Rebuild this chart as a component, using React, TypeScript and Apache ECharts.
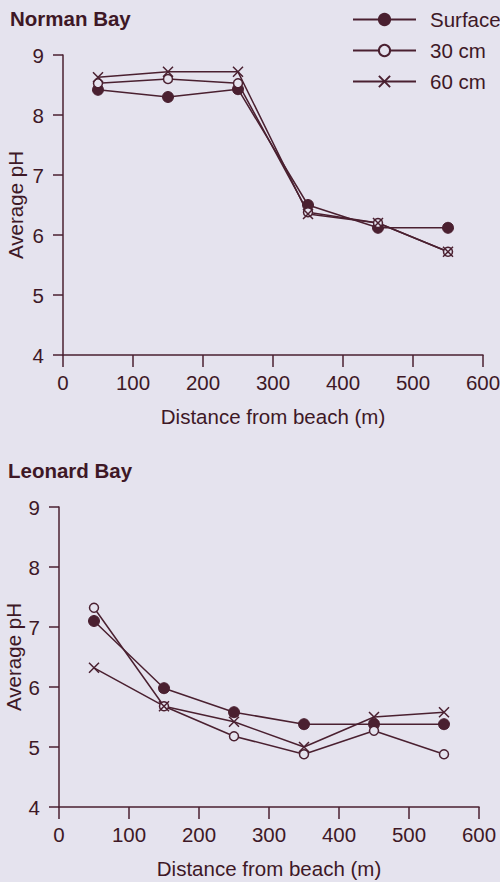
import React, { useEffect, useRef } from "react";
import * as echarts from "echarts";

const distances = [50, 150, 250, 350, 450, 550];
const seriesNames = ["Surface", "30 cm", "60 cm"];
const normanSurface = [8.42, 8.3, 8.43, 6.5, 6.12, 6.12];
const norman30 = [8.53, 8.6, 8.53, 6.38, 6.2, 5.72];
const norman60 = [8.63, 8.72, 8.72, 6.35, 6.2, 5.72];
const leonardSurface = [7.1, 5.98, 5.58, 5.38, 5.38, 5.38];
const leonard30 = [7.32, 5.68, 5.18, 4.88, 5.27, 4.88];
const leonard60 = [6.32, 5.68, 5.42, 5.0, 5.5, 5.58];
const panelTitles = ["Norman Bay", "Leonard Bay"];
const xName = "Distance from beach (m)";
const yName = "Average pH";

const BG = "#e5e3ee";
const INK = "#3e1826";
const LINE = "#4a2030";
const FONT = "'Liberation Sans', Arial, sans-serif";
const FS = 20.5;

export default function App() {
  const ref = useRef<HTMLDivElement>(null);
  useEffect(() => {
    if (!ref.current) return;
    const chart = echarts.init(ref.current, undefined, { renderer: "svg" });
    const grids = [
      { left: 63, top: 55, width: 420, height: 300, containLabel: false, outerBoundsMode: "none" },
      { left: 59, top: 507, width: 420, height: 300, containLabel: false, outerBoundsMode: "none" },
    ];
    const yGaps = [37, 35];
    const mkX = (i: number) => ({
      type: "value",
      gridIndex: i,
      min: 0,
      max: 600,
      interval: 100,
      name: xName,
      nameLocation: "middle",
      nameGap: 51,
      nameMoveOverlap: false,
      nameTextStyle: { color: INK, fontSize: FS, fontFamily: FONT },
      axisLine: { onZero: false, lineStyle: { color: LINE, width: 1.5 } },
      axisTick: { length: 12, lineStyle: { color: LINE, width: 1.5 } },
      axisLabel: { color: INK, fontSize: FS, fontFamily: FONT, margin: 17 },
      splitLine: { show: false },
    });
    const mkY = (i: number) => ({
      type: "value",
      gridIndex: i,
      min: 4,
      max: 9,
      interval: 1,
      name: yName,
      nameLocation: "middle",
      nameGap: yGaps[i],
      nameMoveOverlap: false,
      nameTextStyle: { color: INK, fontSize: FS, fontFamily: FONT },
      axisLine: { onZero: false, lineStyle: { color: LINE, width: 1.5 } },
      axisTick: { length: 10, lineStyle: { color: LINE, width: 1.5 } },
      axisLabel: { color: INK, fontSize: FS, fontFamily: FONT, margin: 19 },
      splitLine: { show: false },
    });
    const styles = [
      { symbol: "circle", symbolSize: 11, itemStyle: { color: LINE, borderColor: LINE, borderWidth: 1 } },
      { symbol: "circle", symbolSize: 9, itemStyle: { color: BG, borderColor: LINE, borderWidth: 1.5 } },
      {
        symbol: "path://M0,0L10,10M10,0L0,10",
        symbolSize: 10,
        itemStyle: { color: "none", borderColor: LINE, borderWidth: 1.5 },
      },
    ];
    const sets = [
      [normanSurface, norman30, norman60],
      [leonardSurface, leonard30, leonard60],
    ];
    const series: any[] = [];
    sets.forEach((set, gi) => {
      set.forEach((vals, si) => {
        series.push({
          type: "line",
          name: seriesNames[si],
          xAxisIndex: gi,
          yAxisIndex: gi,
          data: distances.map((d, k) => [d, vals[k]]),
          lineStyle: { color: LINE, width: 1.5 },
          ...styles[si],
        });
      });
    });
    chart.setOption({
      animation: false,
      backgroundColor: BG,
      title: [
        { text: panelTitles[0], left: 5, top: 3, textStyle: { color: INK, fontSize: FS, fontWeight: "bold", fontFamily: FONT } },
        { text: panelTitles[1], left: 3, top: 455, textStyle: { color: INK, fontSize: FS, fontWeight: "bold", fontFamily: FONT } },
      ],
      legend: {
        data: seriesNames,
        orient: "vertical",
        left: 347,
        top: 4,
        itemWidth: 63,
        itemHeight: 14,
        itemGap: 10,
        textStyle: { color: INK, fontSize: FS, fontFamily: FONT, padding: [0, 0, 0, 9] },
      },
      grid: grids,
      xAxis: [mkX(0), mkX(1)],
      yAxis: [mkY(0), mkY(1)],
      series,
    });
    return () => chart.dispose();
  }, []);
  return (
    <div
      ref={ref}
      style={{ position: "fixed", left: 0, top: 0, width: 500, height: 882, background: BG }}
    />
  );
}
